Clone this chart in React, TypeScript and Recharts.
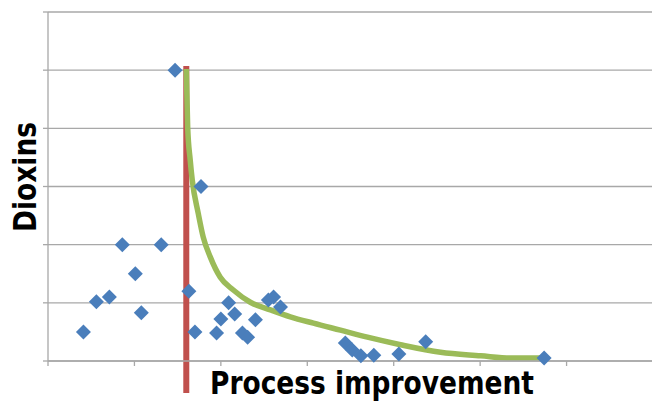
import { ComposedChart, Scatter, Line, XAxis, YAxis, CartesianGrid, ReferenceLine } from 'recharts'

// measured points (x = process improvement, y = dioxins)
const pointX = [1.47, 1.77, 0.41, 0.56, 0.71, 0.86, 1.01, 1.08, 1.31, 1.63, 1.7, 1.95, 2.0, 2.09, 2.16, 2.25, 2.31, 2.4, 2.55, 2.61, 2.69, 3.44, 3.52, 3.62, 3.77, 4.06, 4.37, 5.74]
const pointY = [5.0, 3.0, 0.5, 1.02, 1.1, 2.0, 1.5, 0.83, 2.0, 1.2, 0.5, 0.48, 0.72, 1.0, 0.81, 0.48, 0.41, 0.71, 1.05, 1.1, 0.93, 0.31, 0.19, 0.09, 0.1, 0.12, 0.33, 0.05]

// hand-drawn trend curve
const curveX = [1.6, 1.616, 1.645, 1.669, 1.738, 1.796, 1.877, 1.993, 2.144, 2.341, 2.573, 2.804, 3.071, 3.384, 3.696, 4.079, 4.542, 5.006, 5.353, 5.713]
const curveY = [5.02, 4.02, 3.46, 3.11, 2.54, 2.13, 1.79, 1.44, 1.22, 1.01, 0.88, 0.76, 0.65, 0.53, 0.41, 0.28, 0.15, 0.09, 0.05, 0.05]

// red threshold line
const thresholdX = 1.6
const thresholdTop = 5.07
const thresholdBottom = -0.55

const xTicks = [0, 1, 2, 3, 4, 5, 6, 7]
const yTicks = [0, 1, 2, 3, 4, 5, 6]

const points = pointX.map((x, i) => ({ x, y: pointY[i] }))
const curve = curveX.map((x, i) => ({ x, y: curveY[i] }))

const GRID = '#a8a8a8'
const FONT = '"DejaVu Sans", Verdana, sans-serif'

function Diamond(props: any) {
  const { cx, cy } = props
  const r = 7.5
  return <polygon points={`${cx},${cy - r} ${cx + r},${cy} ${cx},${cy + r} ${cx - r},${cy}`} fill="#4a7ebb" />
}

function YTitle() {
  return (
    <text x={36} y={177} transform="rotate(-90 36 177)" textAnchor="middle" fontFamily={FONT} fontWeight="bold" fontSize={32} textLength={110} lengthAdjust="spacingAndGlyphs" fill="#000">
      Dioxins
    </text>
  )
}

function XTitle() {
  return (
    <text x={372} y={394} textAnchor="middle" fontFamily={FONT} fontWeight="bold" fontSize={32} textLength={324} lengthAdjust="spacingAndGlyphs" fill="#000">
      Process improvement
    </text>
  )
}

const blank = () => ''

export default function App() {
  // chart is a little wider than the frame so the plot's right border falls outside it
  return (
    <div style={{ position: 'absolute', left: 0, top: 0, width: 652, height: 401, background: '#fff', overflow: 'hidden' }}>
      <ComposedChart width={660} height={401} margin={{ top: 12, right: 7, left: 0, bottom: 0 }}>
        <defs>
          <filter id="soft" x="-10%" y="-10%" width="120%" height="120%">
            <feGaussianBlur in="SourceGraphic" stdDeviation="0.6" />
          </filter>
        </defs>
        <CartesianGrid vertical={false} stroke={GRID} strokeWidth={1.3} />
        <XAxis
          type="number"
          dataKey="x"
          domain={[0, 7]}
          ticks={xTicks}
          tickFormatter={blank}
          tickSize={5}
          height={40}
          stroke={GRID}
          strokeWidth={1.3}
          label={{ content: () => <XTitle /> }}
        />
        <YAxis
          type="number"
          dataKey="y"
          domain={[0, 6]}
          ticks={yTicks}
          tickFormatter={blank}
          tickSize={5}
          width={48}
          stroke={GRID}
          strokeWidth={1.3}
          label={{ content: () => <YTitle /> }}
        />
        <ReferenceLine
          segment={[{ x: thresholdX, y: thresholdTop }, { x: thresholdX, y: thresholdBottom }]}
          stroke="#c0504d"
          strokeWidth={6}
          ifOverflow="visible"
        />
        <Line
          data={curve}
          dataKey="y"
          type="monotone"
          stroke="#9bbb59"
          strokeWidth={5.5}
          dot={false}
          activeDot={false}
          filter="url(#soft)"
          isAnimationActive={false}
        />
        <Scatter data={points} dataKey="y" shape={Diamond} isAnimationActive={false} />
      </ComposedChart>
    </div>
  )
}
